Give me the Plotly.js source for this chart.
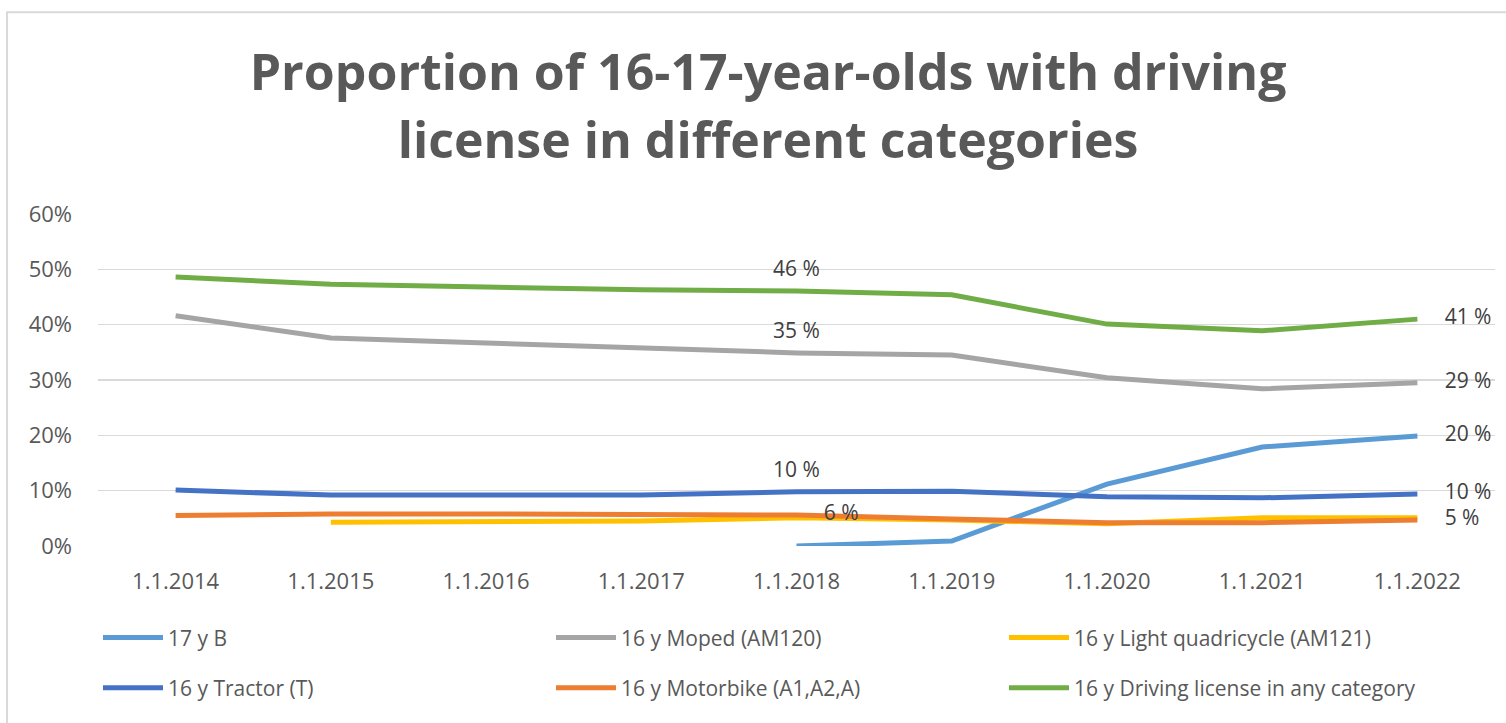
<!DOCTYPE html>
<html>
<head>
<meta charset="utf-8">
<script src="https://cdn.plot.ly/plotly-3.0.1.min.js"></script>
<style>
  html, body { margin: 0; padding: 0; background: #ffffff; }
  #chart { width: 1506px; height: 723px; }
</style>
</head>
<body>
<div id="chart"></div>
<script>
// ---- data ----
var categories = ['1.1.2014','1.1.2015','1.1.2016','1.1.2017','1.1.2018','1.1.2019','1.1.2020','1.1.2021','1.1.2022'];

var seriesNames = [
  '17 y B',
  '16 y Moped (AM120)',
  '16 y Light quadricycle (AM121)',
  '16 y Tractor (T)',
  '16 y Motorbike (A1,A2,A)',
  '16 y Driving license in any category'
];

var b17      = [null, null, null, null, 0.000, 0.009, 0.112, 0.179, 0.199];
var moped    = [0.416, 0.376, 0.367, 0.358, 0.349, 0.345, 0.304, 0.284, 0.295];
var quad     = [null, 0.043, 0.043, 0.045, 0.051, 0.047, 0.040, 0.051, 0.051];
var tractor  = [0.101, 0.092, 0.092, 0.092, 0.098, 0.099, 0.089, 0.087, 0.094];
var motor    = [0.055, 0.058, 0.058, 0.058, 0.056, 0.049, 0.042, 0.042, 0.047];
var anyCat   = [0.486, 0.473, 0.468, 0.463, 0.461, 0.454, 0.401, 0.389, 0.410];

var b17Labels     = ['', '', '', '', '', '', '', '', '20 %'];
var mopedLabels   = ['', '', '', '', '35 %', '', '', '', '29 %'];
var quadLabels    = ['', '', '', '', '', '', '', '', ''];
var tractorLabels = ['', '', '', '', '10 %', '', '', '', '10 %'];
var motorLabels   = ['', '', '', '', '6 %', '', '', '', '5 %'];
var anyLabels     = ['', '', '', '', '46 %', '', '', '', '41 %'];

var yTickVals  = [0, 0.1, 0.2, 0.3, 0.4, 0.5, 0.6];
var yTickTexts = ['0%', '10%', '20%', '30%', '40%', '50%', '60%'];

// ---- styling ----
var colors = ['#5B9BD5', '#A5A5A5', '#FFC000', '#4472C4', '#ED7D31', '#70AD47'];
var values = [b17, moped, quad, tractor, motor, anyCat];
var labels = [b17Labels, mopedLabels, quadLabels, tractorLabels, motorLabels, anyLabels];
var legendIds = ['legend', 'legend', 'legend', 'legend2', 'legend2', 'legend2'];
var rightLabelSeries = 4; // the motorbike label at 1.1.2018 sits to the right

var lineTraces = values.map(function (v, k) {
  return {
    type: 'scatter',
    mode: 'lines',
    x: categories,
    y: v,
    name: seriesNames[k],
    line: { color: colors[k], width: 5, shape: 'linear' },
    connectgaps: false,
    legend: legendIds[k],
    hoverinfo: 'skip'
  };
});

var labelTraces = values.map(function (v, k) {
  var pos = labels[k].map(function (t, i) {
    if (i === labels[k].length - 1) return 'middle right';
    if (k === rightLabelSeries) return 'middle right';
    return 'top center';
  });
  // invisible markers only used to push labels away from the line
  var sizes = pos.map(function (p) { return p === 'middle right' ? 42 : 14; });
  return {
    type: 'scatter',
    mode: 'markers+text',
    x: categories,
    y: v,
    text: labels[k],
    textposition: pos,
    textfont: { family: 'Open Sans, sans-serif', size: 21, color: '#404040' },
    cliponaxis: false,
    marker: { size: sizes, opacity: 0, color: colors[k] },
    showlegend: false,
    hoverinfo: 'skip'
  };
});

var traces = lineTraces.concat(labelTraces);

var legendFont = { family: 'Open Sans, sans-serif', size: 21, color: '#595959' };

var layout = {
  width: 1506,
  height: 723,
  paper_bgcolor: '#ffffff',
  plot_bgcolor: '#ffffff',
  margin: { l: 98, r: 11, t: 214, b: 177 },
  title: {
    text: '<span style="font-size:50px">Proportion of 16-17-year-olds with driving</span><br><span style="font-size:50px">license in different categories</span>',
    font: { family: 'Open Sans, sans-serif', size: 52, color: '#595959', weight: 'bold' },
    x: 0.51, xref: 'container', xanchor: 'center',
    y: 0.875, yref: 'container', yanchor: 'top'
  },
  xaxis: {
    type: 'category',
    range: [-0.5, 8.5],
    showgrid: false,
    zeroline: false,
    showline: false,
    ticks: '',
    tickfont: { family: 'Open Sans, sans-serif', size: 22, color: '#595959' },
    ticklabelstandoff: 20,
    fixedrange: true
  },
  yaxis: {
    range: [0, 0.6],
    tickvals: yTickVals,
    ticktext: yTickTexts,
    showgrid: true,
    gridcolor: '#D9D9D9',
    gridwidth: 1.5,
    zeroline: false,
    showline: false,
    ticks: '',
    tickfont: { family: 'Open Sans, sans-serif', size: 22, color: '#595959' },
    ticklabelstandoff: 25,
    fixedrange: true
  },
  showlegend: true,
  legend: {
    orientation: 'h',
    x: 0.0, xanchor: 'left',
    y: -0.277, yanchor: 'middle',
    font: legendFont,
    itemwidth: 60,
    entrywidth: 378,
    entrywidthmode: 'pixels',
    bgcolor: 'rgba(0,0,0,0)',
    traceorder: 'normal'
  },
  legend2: {
    orientation: 'h',
    x: 0.0, xanchor: 'left',
    y: -0.428, yanchor: 'middle',
    font: legendFont,
    itemwidth: 60,
    entrywidth: 378,
    entrywidthmode: 'pixels',
    bgcolor: 'rgba(0,0,0,0)',
    traceorder: 'normal'
  },
  shapes: [{
    type: 'rect', xref: 'paper', yref: 'paper',
    x0: -0.0651, x1: 1.02, y0: -0.6, y1: 1.608,
    line: { color: '#D9D9D9', width: 2 },
    fillcolor: 'rgba(0,0,0,0)',
    layer: 'below'
  }]
};

Plotly.newPlot('chart', traces, layout, { displayModeBar: false, staticPlot: true });
</script>
</body>
</html>
